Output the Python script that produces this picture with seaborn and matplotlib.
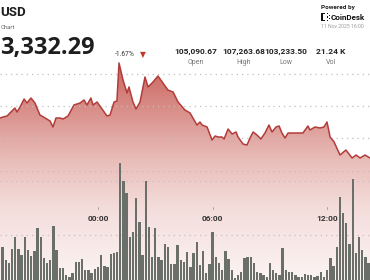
import numpy as np
import pandas as pd
import matplotlib
matplotlib.use("Agg")
import matplotlib.pyplot as plt
import seaborn as sns
from matplotlib.colors import LinearSegmentedColormap
from matplotlib.patches import Rectangle

# ---------------- data ----------------
line_hours = [-5.13, -4.97, -4.76, -4.61, -4.35, -4.24, -4.08, -3.87, -3.72, -3.51,
              -3.30, -3.04, -2.77, -2.51, -2.36, -2.20, -1.99, -1.83, -1.57, -1.26,
              -0.94, -0.73, -0.58, -0.37, -0.26, -0.05, 0.21, 0.47, 0.63, 0.84,
              0.99, 1.10, 1.31, 1.52, 1.62, 1.83, 1.99, 2.20, 2.46, 2.62,
              2.88, 3.14, 3.40, 3.66, 3.93, 4.19, 4.55, 4.82, 5.18, 5.34,
              5.45, 5.71, 5.97, 6.13, 6.28, 6.49, 6.60, 6.81, 7.02, 7.23,
              7.33, 7.59, 7.80, 7.96, 8.12, 8.32, 8.53, 8.74, 8.95, 9.11,
              9.32, 9.48, 9.63, 9.79, 9.95, 10.21, 10.58, 10.73, 10.99, 11.10,
              11.36, 11.62, 11.83, 11.99, 12.15, 12.36, 12.67, 12.98, 13.30, 13.51,
              13.72, 13.98, 14.24]
line_prices = [104631, 104662, 104692, 104785, 104938, 104815, 104969, 105215, 105092, 105246,
               105092, 104723, 104631, 104538, 104354, 104631, 104631, 104600, 104692, 105031,
               105092, 105185, 105031, 105246, 105031, 105123, 104908, 104692, 104723, 105123,
               105154, 106323, 105800, 105400, 105585, 105123, 104908, 105123, 105892, 105585,
               105738, 105923, 105708, 105492, 105431, 105123, 104877, 104785, 104415, 104508,
               104415, 104354, 103954, 104077, 104046, 104046, 103985, 104292, 104138, 104200,
               104046, 103831, 103800, 104015, 104200, 104108, 103985, 104169, 104415, 104200,
               104354, 104385, 104169, 104015, 104169, 104169, 104169, 104169, 104385, 104262,
               104354, 104323, 104354, 104508, 104046, 103892, 103492, 103646, 103400, 103492,
               103400, 103492, 103400]

volume = [152, 156, 107, 96, 148, 193, 148, 126, 193, 144, 122, 141, 226, 193, 115, 96, 107, 233, 144, 78,
          78, 52, 44, 59, 100, 100, 111, 70, 70, 59, 74, 81, 126, 85, 81, 130, 133, 137,
          467,
          400, 356, 193, 211, 337, 248, 126, 400, 230, 119, 226, 119, 107, 167, 156, 93, 93, 163, 107, 100,
          137, 81, 133, 174, 89, 141, 59, 93, 211, 119, 96, 70, 141, 111, 70, 41, 52, 63, 115, 119,
          119, 96, 63, 59, 52, 44, 96, 70, 59, 52, 152, 70, 63, 63, 52, 44, 44, 56, 52,
          52, 44, 48, 63, 44, 70, 115, 85, 156, 341, 281, 244, 167, 407, 133, 193, 144, 119, 96, 156]

bar_times = pd.date_range("2025-11-10 18:50", periods=len(volume), freq="10min")
midnight = pd.Timestamp("2025-11-11 00:00")
bar_hours = ((bar_times - midnight) / pd.Timedelta(hours=1)).to_numpy()

time_ticks = [0, 6, 12]
time_labels = ["00:00", "06:00", "12:00"]
price_grid = [103000, 104000, 105000, 106000]
vol_grid = [200, 400]

stat_values = ["105,090.67", "107,263.68", "103,233.50", "21.24 K"]
stat_names = ["Open", "High", "Low", "Vol"]

# ---------------- style ----------------
sns.set_theme(style="white")
plt.rcParams["font.family"] = ["Roboto", "DejaVu Sans"]

W, H = 370, 280
fig = plt.figure(figsize=(W / 100, H / 100), dpi=100)
fig.patch.set_facecolor("white")

def fx(x):
    return x / W

def fy(y):
    return 1 - y / H

ax = fig.add_axes([0, 0, 1, 222 / H])
XMIN, XMAX = -5.131, 14.24
PBOT, PTOP = 99646, 106477
ax.set_xlim(XMIN, XMAX)
ax.set_ylim(PBOT, PTOP)

# gradient fill under the price line
cmap = LinearSegmentedColormap.from_list(
    "fill",
    [(0.0, "#fbf4f3"), (0.315, "#f4dedc"), (0.54, "#e9bdb9"),
     (0.766, "#d98f8a"), (1.0, "#c95f5a")])
fill = ax.fill_between(line_hours, line_prices, PBOT, color="none", lw=0)
grad = ax.imshow(np.linspace(0, 1, 256).reshape(-1, 1), cmap=cmap, aspect="auto",
                 extent=[XMIN, XMAX, PBOT, PTOP], origin="lower", zorder=1)
grad.set_clip_path(fill.get_paths()[0], transform=ax.transData)

for p in price_grid:
    ax.axhline(p, color="#c8bcbc", lw=0.9, ls=(0, (1, 3.2)), zorder=2)

sns.lineplot(x=line_hours, y=line_prices, ax=ax, color="#b23c39", lw=1.1, zorder=3)
ax.set_xlim(XMIN, XMAX)
ax.set_ylim(PBOT, PTOP)
ax.axis("off")

# volume bars
ax2 = ax.twinx()
for v in vol_grid:
    ax2.axhline(v, color="#cbbfbf", lw=0.9, ls=(0, (1, 3.2)), zorder=1)
sns.barplot(x=bar_hours, y=volume, native_scale=True, orient="x", width=0.74,
            color="#6b6f6a", saturation=1, ax=ax2, zorder=3, linewidth=0)
ax2.set_xlim(XMIN, XMAX)
ax2.set_ylim(33.3, 855.6)
ax2.axis("off")

tr = ax2.get_xaxis_transform()
for t, lab in zip(time_ticks, time_labels):
    ax2.text(t, 0.2748, lab, transform=tr, ha="center", va="center",
             fontsize=6, fontweight="bold", color="#333333", zorder=5)
    ax2.plot([t, t], [0.318, 0.328], transform=tr, color="#999999", lw=0.6, zorder=5)

# ---------------- header ----------------
fig.text(fx(0.5), fy(12.5), "USD", ha="left", va="center", fontsize=9.5,
         fontweight="bold", color="#1e1e1e")
fig.text(fx(0.5), fy(27.5), "Chart", ha="left", va="center", fontsize=4.3, color="#666666")
fig.text(fx(0.5), fy(47.5), "3,332.29", ha="left", va="center", fontsize=17,
         fontweight="bold", color="#1e1e1e", family=["Open Sans", "DejaVu Sans"])
fig.text(fx(115), fy(55), "-1.67%", ha="left", va="center", fontsize=4.8, color="#333333")
fig.text(fx(142.5), fy(55), "▼", ha="center", va="center", fontsize=5.5,
         color="#c0392b", family=["DejaVu Sans"])

stat_x = [196, 244, 286, 331]
for x, v, n in zip(stat_x, stat_values, stat_names):
    fig.text(fx(x), fy(51.5), v, ha="center", va="center", fontsize=6,
             fontweight="bold", color="#222222")
    fig.text(fx(x), fy(62), n, ha="center", va="center", fontsize=5, color="#777777")

fig.text(fx(321), fy(7), "Powered by", ha="left", va="center", fontsize=4.6,
         fontweight="bold", color="#222222")
# logo mark
LX = 321
for (x0, y0, w, h) in [(0, 13, 1.5, 8), (0, 13, 4.2, 1.4), (0, 19.6, 4.2, 1.4),
                       (5.5, 13, 1.4, 1.4), (5.5, 16.3, 1.4, 1.4), (5.5, 19.6, 1.4, 1.4),
                       (7.6, 14.6, 1.4, 1.4), (7.6, 18.0, 1.4, 1.4)]:
    fig.add_artist(Rectangle((fx(LX + x0), fy(y0 + h)), w / W, h / H,
                             transform=fig.transFigure, color="#111111", lw=0))
fig.text(fx(331), fy(17.3), "CoinDesk", ha="left", va="center", fontsize=5.8,
         fontweight="bold", color="#111111")
fig.text(fx(321), fy(26.5), "11 Nov 2025 16:00", ha="left", va="center", fontsize=3.7,
         color="#9a9a9a")

fig.savefig("out.png", dpi=100, facecolor="white")
